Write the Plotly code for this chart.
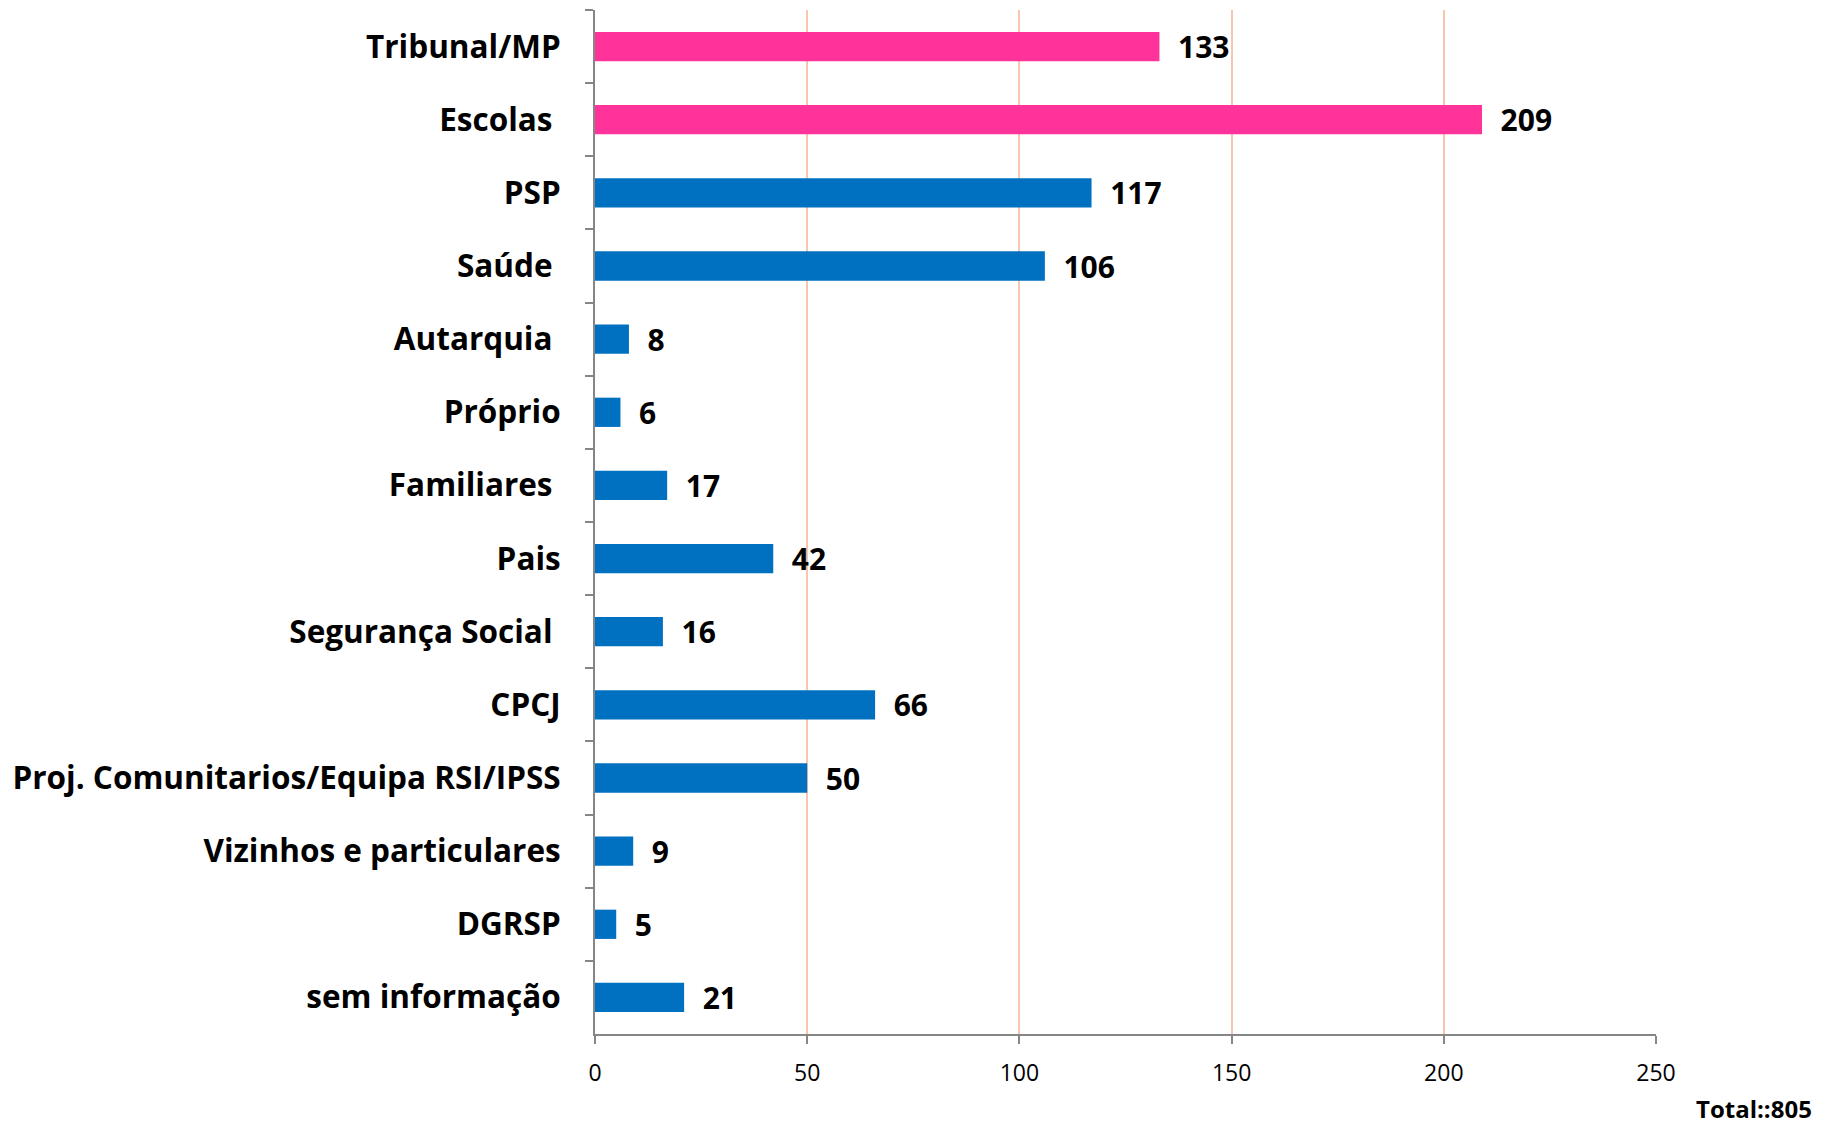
import plotly.graph_objects as go

categories = ["Tribunal/MP", "Escolas ", "PSP", "Saúde ", "Autarquia ", "Próprio",
              "Familiares ", "Pais", "Segurança Social ", "CPCJ",
              "Proj. Comunitarios/Equipa RSI/IPSS", "Vizinhos e particulares",
              "DGRSP", "sem informação"]
values = [133, 209, 117, 106, 8, 6, 17, 42, 16, 66, 50, 9, 5, 21]
highlight = [True, True] + [False] * 12
x_ticks = [0, 50, 100, 150, 200, 250]
total_label = "Total::805"

colors = ["#FF3399" if h else "#0070C0" for h in highlight]

W, H = 1819, 1119  # page body has an 8px margin
L, R, T, B = 587, 171, 2, 93

fig = go.Figure(go.Bar(
    y=categories, x=values, orientation="h",
    marker=dict(color=colors, line=dict(width=0)),
    width=0.4,
    text=[f"  {v}" for v in values],
    textposition="outside",
    constraintext="none",
    textfont=dict(family="Open Sans", size=30, color="black", weight="bold"),
    cliponaxis=False,
))

fig.update_layout(
    width=W, height=H,
    margin=dict(l=L, r=R, t=T, b=B),
    plot_bgcolor="white", paper_bgcolor="white",
    showlegend=False,
    font=dict(family="Open Sans", color="black"),
)
fig.update_xaxes(
    range=[0, 250], tickvals=x_ticks, ticktext=[str(t) for t in x_ticks],
    showgrid=True, gridcolor="#F7C6AE", gridwidth=2,
    showline=True, linecolor="#868686", linewidth=2,
    ticks="outside", ticklen=8, tickcolor="#868686", tickwidth=2,
    tickfont=dict(family="Open Sans", size=23, color="black"),
    ticklabelstandoff=9,
    zeroline=False,
)
fig.update_yaxes(
    autorange="reversed", type="category",
    showgrid=False, showline=True, linecolor="#868686", linewidth=2,
    ticks="outside", ticklen=8, tickcolor="#868686", tickwidth=2,
    tickson="boundaries",
    tickfont=dict(family="Open Sans", size=31.5, color="black", weight="bold"),
    ticklabelstandoff=26,
)
fig.add_annotation(
    text=total_label, xref="paper", yref="paper",
    x=(1806 - L) / (W - L - R), y=-(1100 - (H - B)) / (H - T - B),
    xanchor="right", yanchor="middle", showarrow=False,
    font=dict(family="Open Sans", size=24, color="black", weight="bold"),
)

fig.write_html("out.html")
